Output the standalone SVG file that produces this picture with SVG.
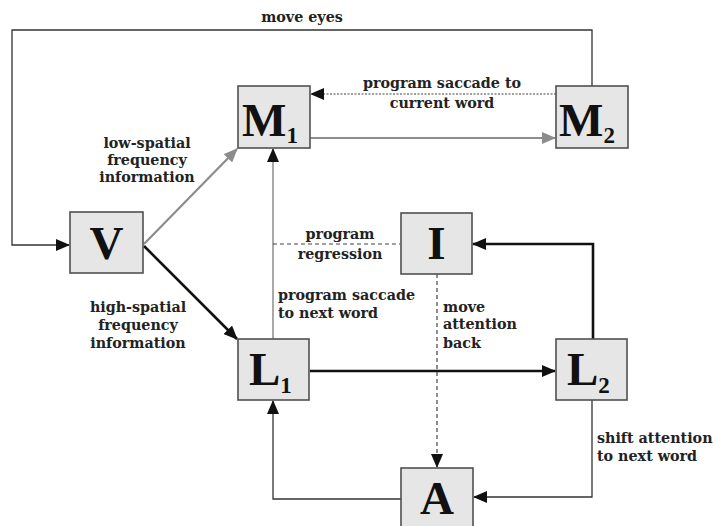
<svg xmlns="http://www.w3.org/2000/svg" width="713" height="526" viewBox="0 0 713 526">
<style>
.box{fill:#e6e6e6;stroke:#505050;stroke-width:1.6}
.lbl{font-family:"Liberation Serif",serif;font-weight:bold;font-size:47px;fill:#111}
.sub{font-size:23px}
.t{font-family:"DejaVu Serif",serif;font-weight:bold;font-size:14.3px;fill:#222}
.blk{fill:none;stroke:#111;stroke-width:2.6}
.thin{fill:none;stroke:#333;stroke-width:1.3}
.gray{fill:none;stroke:#8c8c8c;stroke-width:2.2}
.gthin{fill:none;stroke:#8c8c8c;stroke-width:1.5}
.dash{fill:none;stroke:#444;stroke-width:1.2;stroke-dasharray:4,3}
.dot{fill:none;stroke:#444;stroke-width:1.2;stroke-dasharray:2,1.5}
</style>
<defs>
<marker id="ah" markerUnits="userSpaceOnUse" markerWidth="14" markerHeight="12" refX="13" refY="6" orient="auto">
<path d="M0,0 L14,6 L0,12 Z" fill="#111"/>
</marker>
<marker id="ahg" markerUnits="userSpaceOnUse" markerWidth="14" markerHeight="12" refX="13" refY="6" orient="auto">
<path d="M0,0 L14,6 L0,12 Z" fill="#8c8c8c"/>
</marker>
</defs>
<g id="connectors">
<polyline class="thin" points="592,86 592,30 12,30 12,245 69,245" marker-end="url(#ah)"/>
<line class="dot" x1="556" y1="94" x2="311" y2="94" marker-end="url(#ah)"/>
<line class="gray" x1="310" y1="138" x2="555" y2="138" marker-end="url(#ahg)"/>
<line class="gray" x1="144" y1="244" x2="237" y2="149" marker-end="url(#ahg)"/>
<line class="blk" x1="144" y1="246" x2="237" y2="339" marker-end="url(#ah)"/>
<line class="gthin" x1="273" y1="339" x2="273" y2="149" marker-end="url(#ah)"/>
<line class="dash" x1="273" y1="244" x2="400" y2="244"/>
<polyline class="blk" points="593,339 593,244 473,244" marker-end="url(#ah)"/>
<line class="blk" x1="310" y1="371" x2="555" y2="371" marker-end="url(#ah)"/>
<line class="dash" x1="437" y1="274" x2="437" y2="467" marker-end="url(#ah)"/>
<polyline class="thin" points="592,400 592,497 474,497" marker-end="url(#ah)"/>
<polyline class="thin" points="401,499 273,499 273,401" marker-end="url(#ah)"/>
</g>
<g id="M1"><rect class="box" x="238" y="86" width="72" height="62"/><text class="lbl" x="242" y="136">M<tspan class="sub" dy="7">1</tspan></text></g>
<g id="M2"><rect class="box" x="556" y="86" width="72" height="62"/><text class="lbl" x="559" y="136">M<tspan class="sub" dy="7">2</tspan></text></g>
<g id="V"><rect class="box" x="70" y="212" width="73" height="61"/><text class="lbl" x="106.5" y="259" text-anchor="middle">V</text></g>
<g id="I"><rect class="box" x="401" y="213" width="71" height="61"/><text class="lbl" x="436.5" y="259" text-anchor="middle">I</text></g>
<g id="L1"><rect class="box" x="238" y="339" width="71" height="61"/><text class="lbl" x="249" y="385">L<tspan class="sub" dy="8">1</tspan></text></g>
<g id="L2"><rect class="box" x="556" y="339" width="71" height="61"/><text class="lbl" x="567" y="385">L<tspan class="sub" dy="8">2</tspan></text></g>
<g id="A"><rect class="box" x="401" y="468" width="72" height="62"/><text class="lbl" x="437" y="514" text-anchor="middle">A</text></g>
<g id="labels">
<text class="t" x="302" y="22" text-anchor="middle">move eyes</text>
<text class="t" x="442" y="88" text-anchor="middle">program saccade to</text>
<text class="t" x="442" y="108" text-anchor="middle">current word</text>
<text class="t" text-anchor="middle"><tspan x="147" y="148">low-spatial</tspan><tspan x="147" y="165">frequency</tspan><tspan x="147" y="182">information</tspan></text>
<text class="t" text-anchor="middle"><tspan x="138" y="312">high-spatial</tspan><tspan x="138" y="330">frequency</tspan><tspan x="138" y="348">information</tspan></text>
<text class="t" text-anchor="middle"><tspan x="340" y="239">program</tspan><tspan x="340" y="259">regression</tspan></text>
<text class="t"><tspan x="278" y="300">program saccade</tspan><tspan x="278" y="318">to next word</tspan></text>
<text class="t"><tspan x="443" y="312">move</tspan><tspan x="443" y="329">attention</tspan><tspan x="443" y="348">back</tspan></text>
<text class="t"><tspan x="597" y="443">shift attention</tspan><tspan x="597" y="461">to next word</tspan></text>
</g>
</svg>
